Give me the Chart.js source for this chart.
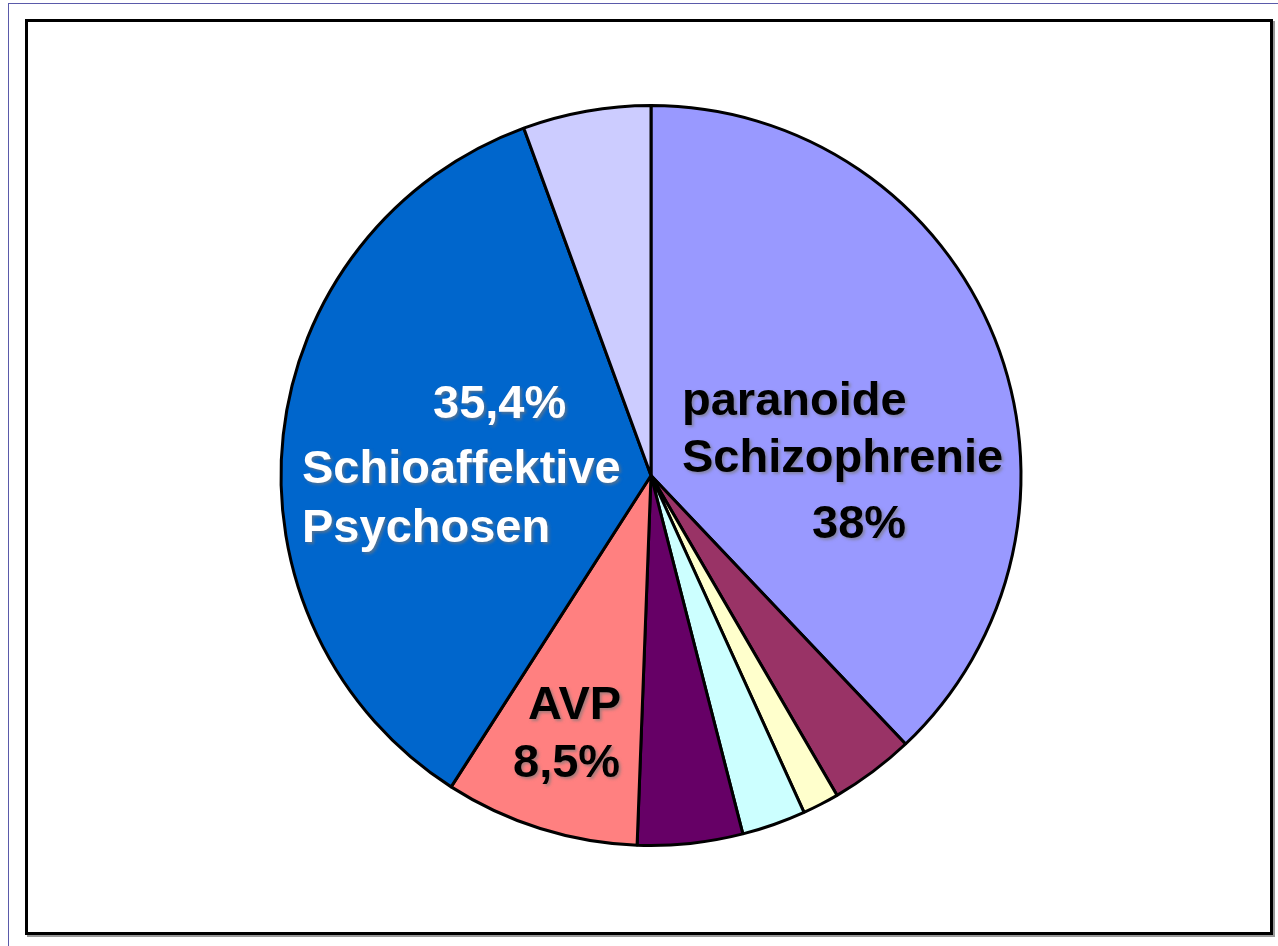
<!DOCTYPE html>
<html>
<head>
<meta charset="utf-8">
<script src="https://cdn.jsdelivr.net/npm/chart.js@4/dist/chart.umd.min.js"></script>
<style>
  html, body { margin: 0; padding: 0; background: #fff; width: 1278px; height: 946px; overflow: hidden; }
  #outer { position: absolute; left: 8px; top: 3px; width: 1290px; height: 960px; border-left: 1px solid #5a5aaa; border-top: 1px solid #5a5aaa; box-sizing: border-box; }
  #frame { position: absolute; left: 25px; top: 19px; width: 1248px; height: 916px; border: 3px solid #000; box-sizing: border-box; box-shadow: 2px 2px 0 #999; }
  #c { position: absolute; left: 0; top: 0; }
</style>
</head>
<body>
<div id="outer"></div>
<div id="frame"></div>
<canvas id="c" width="1278" height="946"></canvas>
<script>
// Categories, clockwise from 12 o'clock
const categories = [
  "paranoide Schizophrenie",
  "Kategorie 2",
  "Kategorie 3",
  "Kategorie 4",
  "Kategorie 5",
  "AVP",
  "Schioaffektive Psychosen",
  "Kategorie 8"
];
const values = [38, 3.7, 1.6, 2.8, 4.6, 8.5, 35.4, 5.6];
const colors = ["#9999FF", "#993366", "#FFFFCC", "#CCFFFF", "#660066", "#FF8080", "#0066CC", "#CCCCFF"];

const fmt = v => v.toLocaleString('de-DE') + '%';

// Label layouts (text lines derived from categories/values)
const labelSpecs = [
  { idx: 0, color: "#000", lines: [
      { t: "paranoide", x: 682, y: 415 },
      { t: "Schizophrenie", x: 682, y: 472 },
      { t: "%v", x: 812, y: 538 } ] },
  { idx: 6, color: "#fff", lines: [
      { t: "%v", x: 433, y: 418 },
      { t: "Schioaffektive", x: 302, y: 483 },
      { t: "Psychosen", x: 302, y: 542 } ] },
  { idx: 5, color: "#000", lines: [
      { t: "%c", x: 528, y: 719 },
      { t: "%v", x: 513, y: 777 } ] }
];

const labelPlugin = {
  id: 'sliceLabels',
  afterDatasetsDraw(chart) {
    const ctx = chart.ctx;
    ctx.save();
    ctx.font = "bold 47px 'Liberation Sans', Arial, sans-serif";
    ctx.textAlign = 'left';
    ctx.textBaseline = 'alphabetic';
    labelSpecs.forEach(spec => {
      spec.lines.forEach(l => {
        let txt = l.t;
        if (txt === '%v') txt = fmt(values[spec.idx]);
        else if (txt === '%c') txt = categories[spec.idx];
        ctx.shadowColor = 'rgba(120,120,120,0.65)';
        ctx.shadowOffsetX = 2;
        ctx.shadowOffsetY = 2;
        ctx.shadowBlur = 3;
        ctx.fillStyle = spec.color;
        ctx.fillText(txt, l.x, l.y);
      });
    });
    ctx.restore();
  }
};

new Chart(document.getElementById('c'), {
  type: 'pie',
  data: {
    labels: categories,
    datasets: [{
      data: values,
      backgroundColor: colors,
      borderColor: '#000',
      borderWidth: 3,
      hoverOffset: 0
    }]
  },
  options: {
    responsive: false,
    animation: false,
    events: [],
    layout: { padding: { top: 104, bottom: 99, left: 24, right: 0 } },
    plugins: {
      legend: { display: false },
      tooltip: { enabled: false },
      title: { display: false }
    }
  },
  plugins: [labelPlugin]
});
</script>
</body>
</html>
